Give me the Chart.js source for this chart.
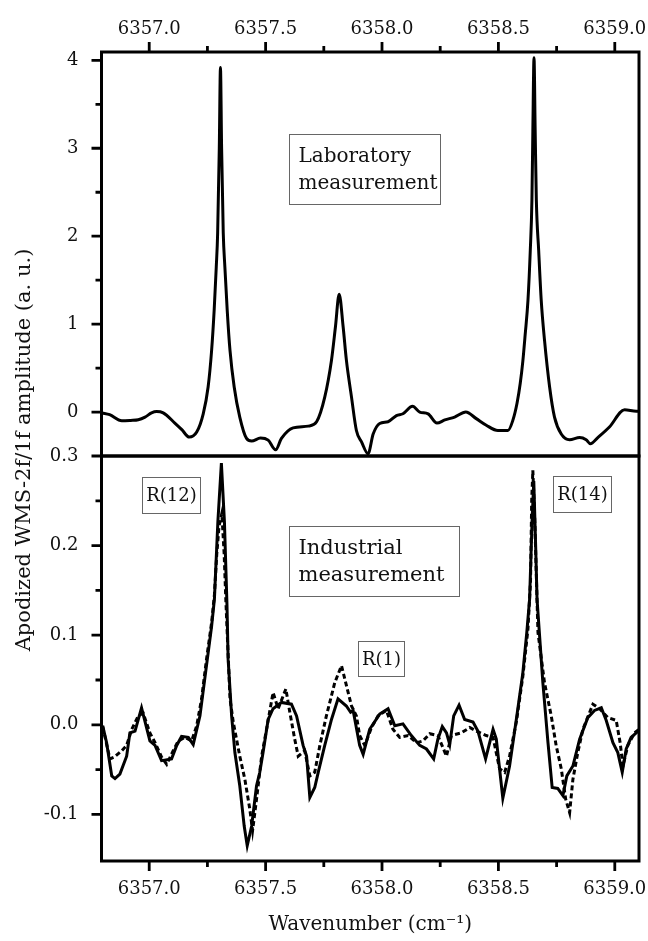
<!DOCTYPE html>
<html>
<head>
<meta charset="utf-8">
<script src="https://cdn.jsdelivr.net/npm/chart.js@4.4.1/dist/chart.umd.min.js"></script>
<style>
  html, body { margin: 0; padding: 0; background: #fff; }
  #wrap { position: relative; width: 648px; height: 941px; overflow: hidden; }
  canvas { position: absolute; left: 0; }
  #labChart { top: 0; }
  #indChart { top: 440px; }
  #yTitle {
    position: absolute; left: -227px; top: 438px; width: 500px; height: 24px;
    line-height: 24px; text-align: center; color: #111;
    font: 21px 'DejaVu Serif'; transform: rotate(-90deg);
  }
</style>
</head>
<body>
<div id="wrap">
  <canvas id="labChart" width="648" height="470"></canvas>
  <canvas id="indChart" width="648" height="501"></canvas>
  <div id="yTitle">Apodized WMS-2f/1f amplitude (a. u.)</div>
</div>
<script>
// axis ranges and ticks
const X_MIN = 6356.795, X_MAX = 6359.104;
const xMajor = [6357.0, 6357.5, 6358.0, 6358.5, 6359.0];
const xMinor = [6357.25, 6357.75, 6358.25, 6358.75];
const labMajor = [0, 1, 2, 3, 4];
const labMinor = [0.5, 1.5, 2.5, 3.5];
const indMajor = [-0.1, 0.0, 0.1, 0.2, 0.3];
const indMinor = [-0.05, 0.05, 0.15, 0.25];

// laboratory measurement (top panel)
const wnLab = [6356.798, 6356.83, 6356.882, 6356.92, 6356.953, 6356.982, 6357.010, 6357.032, 6357.06, 6357.11,
  6357.14, 6357.172, 6357.204, 6357.232, 6357.253, 6357.268, 6357.279, 6357.288, 6357.294, 6357.301,
  6357.306, 6357.311, 6357.318, 6357.325, 6357.335, 6357.347, 6357.365, 6357.389, 6357.418, 6357.44,
  6357.478, 6357.511, 6357.543, 6357.568, 6357.618, 6357.683, 6357.719, 6357.754, 6357.783, 6357.80,
  6357.816, 6357.833, 6357.847, 6357.869, 6357.89, 6357.912, 6357.94, 6357.962, 6357.99, 6358.026,
  6358.062, 6358.09, 6358.131, 6358.162, 6358.198, 6358.236, 6358.27, 6358.312, 6358.36, 6358.405,
  6358.448, 6358.498, 6358.541, 6358.562, 6358.580, 6358.594, 6358.605, 6358.615, 6358.627, 6358.637,
  6358.644, 6358.648, 6358.653, 6358.658, 6358.663, 6358.673, 6358.684, 6358.698, 6358.72, 6358.741,
  6358.77, 6358.806, 6358.849, 6358.877, 6358.895, 6358.927, 6358.977, 6359.042, 6359.092, 6359.104];
const ampLab = [-0.01, -0.03, -0.10, -0.095, -0.087, -0.057, -0.01, 0.005, -0.01, -0.125,
  -0.20, -0.285, -0.228, -0.02, 0.285, 0.70, 1.16, 1.65, 2.04, 3.0,
  3.92, 3.0, 2.04, 1.65, 1.16, 0.70, 0.285, -0.057, -0.30, -0.33,
  -0.296, -0.32, -0.43, -0.30, -0.18, -0.16, -0.11, 0.17, 0.59, 0.97,
  1.34, 0.97, 0.59, 0.17, -0.21, -0.34, -0.475, -0.25, -0.13, -0.11,
  -0.04, -0.02, 0.065, 0.0, -0.02, -0.125, -0.09, -0.057, 0.0, -0.075,
  -0.15, -0.21, -0.21, -0.095, 0.10, 0.33, 0.58, 0.88, 1.27, 1.84,
  2.41, 3.2, 4.03, 3.2, 2.41, 1.84, 1.27, 0.82, 0.285, -0.057,
  -0.25, -0.315, -0.29, -0.315, -0.36, -0.29, -0.17, 0.027, 0.01, 0.01];

// industrial measurement, solid trace
const wnSolid = [6356.800, 6356.817, 6356.839, 6356.853, 6356.874, 6356.903, 6356.917, 6356.939, 6356.967, 6357.003,
  6357.025, 6357.053, 6357.096, 6357.118, 6357.139, 6357.168, 6357.189, 6357.218, 6357.246, 6357.268,
  6357.280, 6357.295, 6357.310, 6357.323, 6357.334, 6357.339, 6357.354, 6357.368, 6357.389, 6357.408,
  6357.421, 6357.440, 6357.461, 6357.475, 6357.489, 6357.511, 6357.532, 6357.568, 6357.611, 6357.633,
  6357.661, 6357.676, 6357.690, 6357.711, 6357.726, 6357.754, 6357.783, 6357.811, 6357.847, 6357.865,
  6357.876, 6357.904, 6357.919, 6357.947, 6357.990, 6358.026, 6358.055, 6358.090, 6358.126, 6358.162,
  6358.191, 6358.222, 6358.240, 6358.259, 6358.277, 6358.291, 6358.308, 6358.331, 6358.355, 6358.391,
  6358.412, 6358.445, 6358.477, 6358.491, 6358.519, 6358.548, 6358.577, 6358.605, 6358.622, 6358.634,
  6358.645, 6358.652, 6358.660, 6358.666, 6358.691, 6358.713, 6358.731, 6358.755, 6358.777, 6358.794,
  6358.820, 6358.849, 6358.884, 6358.913, 6358.942, 6358.963, 6358.992, 6359.013, 6359.032, 6359.049,
  6359.070, 6359.092, 6359.104];
const ampSolid = [-0.001, -0.020, -0.057, -0.060, -0.055, -0.035, -0.009, -0.007, 0.019, -0.018,
  -0.023, -0.040, -0.038, -0.023, -0.013, -0.014, -0.022, 0.010, 0.066, 0.110,
  0.140, 0.227, 0.292, 0.227, 0.134, 0.073, 0.010, -0.031, -0.068, -0.113,
  -0.135, -0.113, -0.068, -0.053, -0.031, 0.006, 0.018, 0.025, 0.023, 0.010,
  -0.023, -0.035, -0.081, -0.070, -0.053, -0.023, 0.006, 0.029, 0.021, 0.014,
  0.016, -0.023, -0.033, -0.005, 0.012, 0.018, -0.001, 0.001, -0.012, -0.023,
  -0.027, -0.038, -0.016, -0.002, -0.009, -0.022, 0.010, 0.022, 0.006, 0.003,
  -0.007, -0.038, -0.005, -0.016, -0.082, -0.046, 0.006, 0.058, 0.103, 0.140,
  0.230, 0.272, 0.200, 0.140, 0.047, -0.020, -0.070, -0.071, -0.079, -0.057,
  -0.046, -0.016, 0.008, 0.016, 0.019, 0.005, -0.020, -0.031, -0.053, -0.027,
  -0.014, -0.009, -0.006];

// industrial measurement, dashed trace
const wnDash = [6356.800, 6356.831, 6356.850, 6356.882, 6356.903, 6356.925, 6356.953, 6356.974, 6357.003, 6357.025,
  6357.053, 6357.075, 6357.103, 6357.125, 6357.153, 6357.182, 6357.204, 6357.225, 6357.246, 6357.268,
  6357.280, 6357.290, 6357.300, 6357.312, 6357.322, 6357.329, 6357.347, 6357.361, 6357.389, 6357.411,
  6357.432, 6357.444, 6357.461, 6357.483, 6357.504, 6357.532, 6357.554, 6357.587, 6357.604, 6357.625,
  6357.640, 6357.668, 6357.690, 6357.711, 6357.733, 6357.761, 6357.797, 6357.826, 6357.847, 6357.869,
  6357.890, 6357.904, 6357.926, 6357.955, 6357.983, 6358.019, 6358.047, 6358.076, 6358.112, 6358.148,
  6358.176, 6358.205, 6358.240, 6358.277, 6358.298, 6358.341, 6358.377, 6358.405, 6358.448, 6358.477,
  6358.505, 6358.527, 6358.548, 6358.577, 6358.605, 6358.627, 6358.638, 6358.643, 6358.648, 6358.656,
  6358.670, 6358.698, 6358.727, 6358.748, 6358.770, 6358.789, 6358.806, 6358.820, 6358.841, 6358.863,
  6358.906, 6358.935, 6358.970, 6359.006, 6359.023, 6359.035, 6359.056, 6359.085, 6359.104];
const ampDash = [-0.002, -0.038, -0.036, -0.029, -0.023, -0.005, 0.010, 0.013, -0.009, -0.020,
  -0.036, -0.044, -0.029, -0.018, -0.014, -0.018, -0.001, 0.029, 0.073, 0.114,
  0.145, 0.190, 0.222, 0.236, 0.190, 0.140, 0.029, 0.003, -0.035, -0.061,
  -0.094, -0.118, -0.083, -0.035, -0.005, 0.036, 0.018, 0.040, 0.014, -0.016,
  -0.035, -0.029, -0.057, -0.053, -0.023, 0.010, 0.047, 0.066, 0.044, 0.021,
  0.010, -0.012, -0.023, -0.003, 0.010, 0.016, -0.005, -0.014, -0.012, -0.020,
  -0.018, -0.010, -0.012, -0.035, -0.012, -0.009, -0.003, -0.007, -0.012, -0.014,
  -0.049, -0.053, -0.035, 0.003, 0.054, 0.107, 0.160, 0.250, 0.284, 0.230,
  0.103, 0.047, 0.010, -0.023, -0.049, -0.083, -0.098, -0.061, -0.031, -0.005,
  0.023, 0.018, 0.008, 0.005, -0.020, -0.046, -0.023, -0.009, -0.005];

// text boxes, anchored at their top-left corner in data units
const labBoxes = [
  { x: 6357.60, y: 3.167, w: 151, h: 70, size: 20, lines: ['Laboratory', 'measurement'] }
];
const indBoxes = [
  { x: 6357.60, y: 0.2218, w: 170, h: 70, size: 21, lines: ['Industrial', 'measurement'] },
  { x: 6356.969, y: 0.2768, w: 58, h: 36, size: 18, center: true, lines: ['R(12)'] },
  { x: 6358.734, y: 0.2780, w: 58, h: 36, size: 18, center: true, lines: ['R(14)'] },
  { x: 6357.897, y: 0.0934, w: 46, h: 35, size: 18, center: true, lines: ['R(1)'] }
];

const FONT = "'DejaVu Serif'";
Chart.defaults.font.family = FONT;
Chart.defaults.color = '#111';

function pts(xs, ys) {
  return xs.map((x, i) => ({ x: x, y: ys[i] }));
}

// frame + tick marks drawn on the chart area edges
const framePlugin = {
  id: 'frame',
  afterDatasetsDraw(chart) {
    const o = chart.options.plugins.frame;
    const { ctx, chartArea: a, scales } = chart;
    ctx.save();
    ctx.strokeStyle = '#000';
    ctx.lineWidth = 3;
    ctx.strokeRect(a.left, a.top, a.right - a.left, a.bottom - a.top);
    ctx.lineWidth = 2.8;
    ctx.beginPath();
    o.yMajor.forEach(v => {
      const py = scales.y.getPixelForValue(v);
      ctx.moveTo(a.left, py); ctx.lineTo(a.left - 10, py);
    });
    o.yMinor.forEach(v => {
      const py = scales.y.getPixelForValue(v);
      ctx.moveTo(a.left, py); ctx.lineTo(a.left - 6, py);
    });
    const edge = o.xSide === 'top' ? a.top : a.bottom;
    const dir = o.xSide === 'top' ? -1 : 1;
    xMajor.forEach(v => {
      const px = scales.x.getPixelForValue(v);
      ctx.moveTo(px, edge); ctx.lineTo(px, edge + dir * 10);
    });
    xMinor.forEach(v => {
      const px = scales.x.getPixelForValue(v);
      ctx.moveTo(px, edge); ctx.lineTo(px, edge + dir * 6);
    });
    ctx.stroke();
    ctx.restore();
  }
};

const boxPlugin = {
  id: 'boxes',
  afterDatasetsDraw(chart) {
    const items = chart.options.plugins.boxes.items || [];
    const { ctx, scales } = chart;
    ctx.save();
    items.forEach(b => {
      const left = Math.round(scales.x.getPixelForValue(b.x)) + 0.5;
      const top = Math.round(scales.y.getPixelForValue(b.y)) + 0.5;
      ctx.fillStyle = '#fff';
      ctx.fillRect(left, top, b.w, b.h);
      ctx.strokeStyle = '#666';
      ctx.lineWidth = 1;
      ctx.strokeRect(left, top, b.w, b.h);
      ctx.fillStyle = '#111';
      ctx.font = b.size + 'px ' + FONT;
      ctx.textBaseline = 'middle';
      ctx.textAlign = b.center ? 'center' : 'left';
      const gap = 27;
      const y0 = top + b.h / 2 - gap * (b.lines.length - 1) / 2;
      b.lines.forEach((t, i) => {
        const tx = b.center ? left + b.w / 2 : left + 9;
        ctx.fillText(t, tx, y0 + i * gap + 1);
      });
    });
    ctx.restore();
  }
};

// keep the axis boxes at fixed sizes and stop label overflow from shrinking the plot
function noPad(s) {
  s.paddingTop = 0; s.paddingBottom = 0; s.paddingLeft = 0; s.paddingRight = 0;
}

function xScale(position, padding, height, title) {
  return {
    type: 'linear', position: position, min: X_MIN, max: X_MAX,
    afterBuildTicks: s => { s.ticks = xMajor.map(v => ({ value: v })); },
    afterFit: s => { s.height = height; noPad(s); },
    grid: { display: false, drawTicks: false },
    border: { display: false },
    ticks: { autoSkip: false, maxRotation: 0, padding: padding, font: { size: 18 },
      callback: v => v.toFixed(1) },
    title: title
  };
}

function yScale(min, max, major, digits) {
  return {
    type: 'linear', min: min, max: max,
    afterBuildTicks: s => { s.ticks = major.map(v => ({ value: v })); },
    afterFit: s => { s.width = 101.5; noPad(s); },
    grid: { display: false, drawTicks: false },
    border: { display: false },
    ticks: { autoSkip: false, padding: 23, font: { size: 18 },
      callback: v => v.toFixed(digits) }
  };
}

new Chart(document.getElementById('labChart'), {
  type: 'line',
  data: {
    datasets: [{
      data: pts(wnLab, ampLab),
      borderColor: '#000', borderWidth: 3, pointRadius: 0,
      cubicInterpolationMode: 'monotone', fill: false
    }]
  },
  options: {
    responsive: false, animation: false, events: [],
    layout: { padding: { top: 0, right: 9, bottom: 14, left: 0 } },
    plugins: {
      legend: { display: false }, tooltip: { enabled: false },
      frame: { xSide: 'top', yMajor: labMajor, yMinor: labMinor },
      boxes: { items: labBoxes }
    },
    scales: {
      x: xScale('top', 12, 52, { display: false }),
      y: yScale(-0.5, 4.095, labMajor, 0)
    }
  },
  plugins: [framePlugin, boxPlugin]
});

new Chart(document.getElementById('indChart'), {
  type: 'line',
  data: {
    datasets: [{
      data: pts(wnSolid, ampSolid),
      borderColor: '#000', borderWidth: 3, pointRadius: 0, tension: 0, fill: false
    }, {
      data: pts(wnDash, ampDash),
      borderColor: '#000', borderWidth: 3, borderDash: [5, 3], pointRadius: 0, tension: 0, fill: false
    }]
  },
  options: {
    responsive: false, animation: false, events: [],
    layout: { padding: { top: 16, right: 9, bottom: 0, left: 0 } },
    plugins: {
      legend: { display: false }, tooltip: { enabled: false },
      frame: { xSide: 'bottom', yMajor: indMajor, yMinor: indMinor },
      boxes: { items: indBoxes }
    },
    scales: {
      x: xScale('bottom', 18, 80, {
        display: true, text: 'Wavenumber (cm\u207B\u00B9)',
        font: { size: 20 }, padding: { top: 0, bottom: 4 }
      }),
      y: yScale(-0.152, 0.3, indMajor, 1)
    }
  },
  plugins: [framePlugin, boxPlugin]
});
</script>
</body>
</html>
